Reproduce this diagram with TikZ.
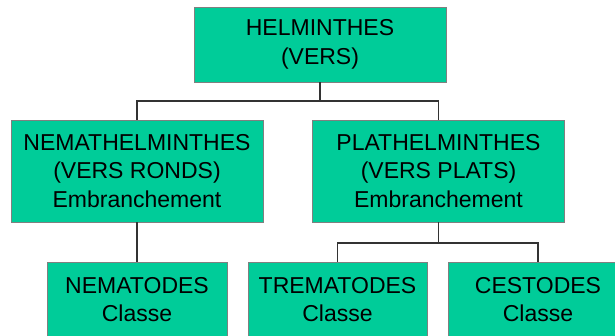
\documentclass[tikz,border=0pt]{standalone}
\usepackage{fontspec}
\setmainfont{Liberation Sans}
\usepackage{tikz}

\definecolor{vert}{RGB}{0,204,153}
\definecolor{bord}{RGB}{128,128,128}

\begin{document}
\begin{tikzpicture}[x=1pt,y=-1pt,
  box/.style={draw=bord,line width=0.9pt,fill=vert,align=center,inner sep=0pt,
    font=\fontsize{23}{28.5}\selectfont},
  big/.style={box,minimum width=252pt},
  small/.style={box,minimum width=180pt,minimum height=75pt},
  link/.style={draw=black!80,line width=1.2pt}]
\pgfmathsetmacro{\ya}{44.5}
\pgfmathsetmacro{\yb}{171}
\pgfmathsetmacro{\yc}{299.5}
\useasboundingbox (0,0) rectangle (615,336);
\clip (0,0) rectangle (615,336);
  \node[big,minimum height=75pt] (helm) at (320,\ya) {HELMINTHES\\(VERS)};
  \node[big,minimum height=102pt] (nemat) at (137,\yb) {NEMATHELMINTHES\\(VERS RONDS)\\Embranchement};
  \node[big,minimum height=102pt] (plat) at (438.5,\yb) {PLATHELMINTHES\\(VERS PLATS)\\Embranchement};
  \node[small] (nematodes) at (137,\yc) {NEMATODES\\Classe};
  \node[small,minimum width=179pt] (tremat) at (337.5,\yc) {TREMATODES\\Classe};
  \node[small] (cest) at (538,\yc) {CESTODES\\Classe};
\coordinate (j1) at (320,101);
\coordinate (j2) at (438.5,243);
  \draw[link] (helm.south) -- (j1);
  \draw[link] (nemat.north) |- (j1) -| (plat.north);
  \draw[link] (nemat.south) -- (nematodes.north);
  \draw[link] (plat.south) -- (j2);
  \draw[link] (tremat.north) |- (j2) -| (cest.north);
\end{tikzpicture}
\end{document}
